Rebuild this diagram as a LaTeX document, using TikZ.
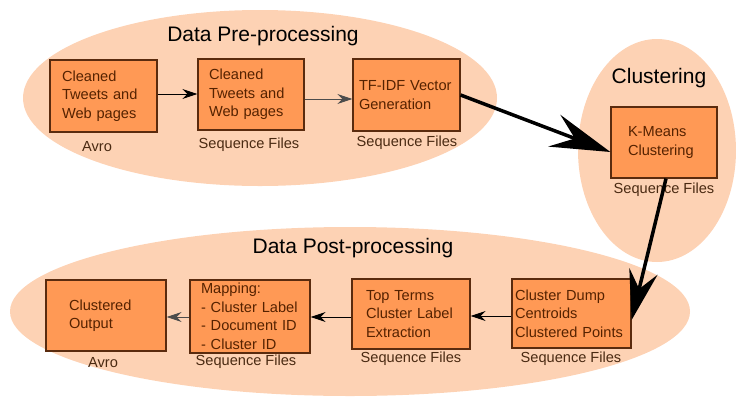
\documentclass[tikz,border=0pt]{standalone}
\usepackage{fontspec}
\setmainfont{Liberation Sans}
\usetikzlibrary{arrows.meta}
\definecolor{ellfill}{HTML}{FDD2B4}
\definecolor{boxfill}{HTML}{FF9955}
\definecolor{boxdraw}{HTML}{5A2B0E}
\definecolor{boxtext}{HTML}{552200}
\definecolor{lbltext}{HTML}{4A2A12}
\begin{document}
\begin{tikzpicture}[x=1pt,y=-1pt,
  pbox/.style n args={4}{draw=boxdraw, line width=1.2pt, fill=boxfill, text=boxtext,
    font=\fontsize{14.6}{18.5}\selectfont, align=left,
    minimum width=#1pt, minimum height=#2pt, inner xsep=#3pt, inner ysep=0pt, text width=#4pt},
  lbl/.style={text=lbltext, font=\fontsize{14.6}{18}\selectfont, inner sep=0pt},
  ttl/.style={text=black, font=\fontsize{21}{25}\selectfont, inner sep=0pt},
  thinarrow/.style={draw=black, line width=1pt, -{Stealth[length=15pt,width=10pt,inset=5pt]}},
  greyarrow/.style={draw=black!70, line width=1pt, -{Stealth[length=15pt,width=10pt,inset=5pt]}},
  bigline/.style={draw=black, line width=3.5pt}
]
\useasboundingbox (0,0) rectangle (736,397);
% regions
\fill[ellfill] (260,98) ellipse [x radius=237pt, y radius=88pt];
\fill[ellfill] (657,150.5) ellipse [x radius=79pt, y radius=111.5pt];
\fill[ellfill] (350,311.5) ellipse [x radius=340pt, y radius=84.5pt];
% titles
\node[ttl] (t1) at (263,36) {Data Pre-processing};
\node[ttl] (t2) at (659,78) {Clustering};
\node[ttl] (t3) at (353,248) {Data Post-processing};
% boxes
\node[pbox={107}{72}{12}{83}] (b1) at (103.5,96) {Cleaned\\Tweets and\\Web pages};
\node[pbox={106}{71}{11}{84}] (b2) at (251,94.5) {Cleaned\\Tweets and\\Web pages};
\node[pbox={107}{72}{6}{95}] (b3) at (406.5,95) {TF-IDF Vector\\Generation};
\node[pbox={106}{71}{17}{72}] (k) at (664,142.5) {K-Means\\Clustering};
\node[pbox={120}{71}{23}{74}] (p1) at (106,315.5) {Clustered\\Output};
\node[pbox={120}{73}{11}{98}] (p2) at (250,316.5) {Mapping:\\- Cluster Label\\- Document ID\\- Cluster ID};
\node[pbox={118}{70}{14}{90}] (p3) at (411,314) {Top Terms\\Cluster Label\\Extraction};
\node[pbox={119}{69}{3}{113}] (p4) at (571.5,313.5) {Cluster Dump\\Centroids\\Clustered Points};
% format labels
\node[lbl] (l1) at (97,146.5) {Avro};
\node[lbl] (l2) at (249,144.5) {Sequence Files};
\node[lbl] (l3) at (407,142.5) {Sequence Files};
\node[lbl] (lk) at (664,189.5) {Sequence Files};
\node[lbl] (lp1) at (103,362.5) {Avro};
\node[lbl] (lp2) at (246,361.5) {Sequence Files};
\node[lbl] (lp3) at (411,358.5) {Sequence Files};
\node[lbl] (lp4) at (571,358.5) {Sequence Files};
% connectors
\draw[thinarrow] ([yshift=2pt]b1.east) -- ([yshift=0.5pt]b2.west);
\draw[greyarrow] ([yshift=-4.5pt]b2.east) -- ([yshift=-4pt]b3.west);
\draw[bigline, -{Stealth[length=60pt,width=34pt,inset=22pt]}] (b3.east) -- ([yshift=-9.5pt]k.west);
\draw[bigline, -{Stealth[length=50pt,width=29pt,inset=18pt]}] ([xshift=2pt]k.south) -- ([yshift=-6.5pt]p4.east);
\draw[thinarrow] ([yshift=-2.5pt]p4.west) -- ([yshift=-2pt]p3.east);
\draw[thinarrow] ([yshift=-3pt]p3.west) -- ([yshift=-0.5pt]p2.east);
\draw[greyarrow] ([yshift=-0.5pt]p2.west) -- ([yshift=-1.5pt]p1.east);
\end{tikzpicture}
\end{document}
